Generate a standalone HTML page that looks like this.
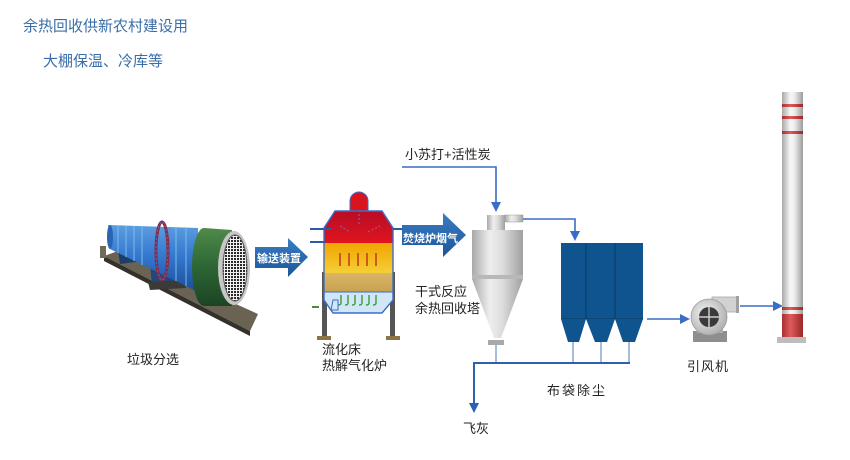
<!DOCTYPE html>
<html><head><meta charset="utf-8">
<style>
html,body{margin:0;padding:0;background:#fff;}
svg{display:block;}
text{font-family:"Liberation Sans","Noto Sans CJK SC",sans-serif;}
</style></head>
<body>
<svg width="850" height="460" viewBox="0 0 850 460" xmlns="http://www.w3.org/2000/svg">
<defs>
  <linearGradient id="arrowG" x1="0" y1="0" x2="0" y2="1">
    <stop offset="0" stop-color="#3a7cc4"/>
    <stop offset="1" stop-color="#1d5699"/>
  </linearGradient>
  <linearGradient id="drumG" x1="0" y1="0" x2="0" y2="1">
    <stop offset="0" stop-color="#5d9de0"/>
    <stop offset="0.45" stop-color="#3579d0"/>
    <stop offset="1" stop-color="#1b4c9a"/>
  </linearGradient>
  <linearGradient id="greenG" x1="0" y1="0" x2="0" y2="1">
    <stop offset="0" stop-color="#4f8a4a"/>
    <stop offset="0.5" stop-color="#2d6634"/>
    <stop offset="1" stop-color="#1c4424"/>
  </linearGradient>
  <pattern id="mesh" width="3" height="3" patternUnits="userSpaceOnUse">
    <rect width="3" height="3" fill="#f2f2f2"/>
    <rect width="2" height="2" fill="#2a2a2a"/>
  </pattern>
  <linearGradient id="redG" x1="0" y1="0" x2="0" y2="1">
    <stop offset="0" stop-color="#b80d26"/>
    <stop offset="1" stop-color="#e0141e"/>
  </linearGradient>
  <linearGradient id="yelG" x1="0" y1="0" x2="0" y2="1">
    <stop offset="0" stop-color="#f0a400"/>
    <stop offset="1" stop-color="#f6cf36"/>
  </linearGradient>
  <linearGradient id="sandG" x1="0" y1="0" x2="0" y2="1">
    <stop offset="0" stop-color="#d9b567"/>
    <stop offset="1" stop-color="#c9a24e"/>
  </linearGradient>
  <linearGradient id="cycG" x1="0" y1="0" x2="1" y2="0">
    <stop offset="0" stop-color="#a9a9a9"/>
    <stop offset="0.35" stop-color="#eeeeee"/>
    <stop offset="0.6" stop-color="#dcdcdc"/>
    <stop offset="1" stop-color="#a0a0a0"/>
  </linearGradient>
  <linearGradient id="chG" x1="0" y1="0" x2="1" y2="0">
    <stop offset="0" stop-color="#a8a8a8"/>
    <stop offset="0.4" stop-color="#f7f7f7"/>
    <stop offset="0.6" stop-color="#ececec"/>
    <stop offset="1" stop-color="#9c9c9c"/>
  </linearGradient>
  <linearGradient id="chR" x1="0" y1="0" x2="1" y2="0">
    <stop offset="0" stop-color="#a83030"/>
    <stop offset="0.4" stop-color="#e05a5a"/>
    <stop offset="1" stop-color="#9a2828"/>
  </linearGradient>
  <radialGradient id="fanG" cx="0.4" cy="0.4" r="0.7">
    <stop offset="0" stop-color="#f4f4f4"/>
    <stop offset="1" stop-color="#a8a8a8"/>
  </radialGradient>
</defs>

<!-- Titles -->
<text x="23" y="31" font-size="15" fill="#3a6ea8">余热回收供新农村建设用</text>
<text x="43" y="66" font-size="15" fill="#3a6ea8">大棚保温、冷库等</text>

<!-- Rotary drum base plate -->
<polygon points="104,256 118,251 258,314 250,331" fill="#6a6354"/>
<polygon points="104,256 250,331 250,336 104,261" fill="#34302a"/>
<!-- supports -->
<rect x="100" y="246" width="6" height="12" fill="#6f6a5c"/>
<polygon points="118,250 134,248 136,262 120,264" fill="#1f3d6a"/>
<polygon points="150,264 180,262 182,284 152,286" fill="#24467a"/>
<polygon points="148,282 184,280 186,288 150,290" fill="#3b3a36"/>
<!-- drum body -->
<polygon points="108,225 198,228 198,292 110,249" fill="url(#drumG)"/>
<g stroke="#7cc0ee" stroke-width="1.2" opacity="0.8">
  <line x1="118" y1="226" x2="118" y2="253"/>
  <line x1="126" y1="226" x2="126" y2="257"/>
  <line x1="134" y1="226" x2="134" y2="261"/>
  <line x1="142" y1="226" x2="142" y2="265"/>
  <line x1="176" y1="227" x2="176" y2="281"/>
  <line x1="186" y1="227" x2="186" y2="286"/>
</g>
<ellipse cx="110" cy="237" rx="3" ry="12" fill="#2c64b4"/>
<ellipse cx="162" cy="251" rx="6" ry="29" fill="none" stroke="#8b2a45" stroke-width="3"/>
<ellipse cx="162" cy="251" rx="6" ry="29" fill="none" stroke="#4472c0" stroke-width="1" stroke-dasharray="2 2"/>
<!-- green section -->
<polygon points="204,228 232,230 232,306 204,306" fill="url(#greenG)"/>
<ellipse cx="204" cy="267" rx="12" ry="39" fill="url(#greenG)"/>
<!-- screen -->
<ellipse cx="234" cy="268" rx="16" ry="37" fill="#c6c6c6"/>
<ellipse cx="235" cy="268" rx="12" ry="33" fill="url(#mesh)"/>
<ellipse cx="235" cy="268" rx="12" ry="33" fill="none" stroke="#555" stroke-width="1"/>

<!-- 输送装置 arrow -->
<polygon points="255,247 288,247 288,238 308,257 288,277 288,268 255,268" fill="url(#arrowG)"/>
<text x="257" y="262" font-size="11" font-weight="bold" fill="#fff">输送装置</text>
<text x="127" y="364" font-size="13" fill="#222">垃圾分选</text>

<!-- Furnace -->
<rect x="322" y="272" width="5" height="66" fill="#555"/>
<rect x="390" y="272" width="5" height="66" fill="#555"/>
<rect x="317" y="336" width="14" height="4" fill="#8c7444"/>
<rect x="386" y="336" width="14" height="4" fill="#8c7444"/>
<path d="M350,212 L350,201 A9,9 0 0 1 368,201 L368,212 Z" fill="#d8141e" stroke="#3a6ec8" stroke-width="1"/>
<polygon points="335,211 382,211 393,228 393,243 324,243 324,228" fill="url(#redG)"/>
<rect x="324" y="243" width="69" height="30" fill="url(#yelG)"/>
<rect x="324" y="273" width="69" height="19" fill="url(#sandG)"/>
<polygon points="324,292 393,292 393,300 382,313 333,313 324,300" fill="#d2e7f6"/>
<path d="M335,211 L382,211 L393,228 L393,300 L382,313 L333,313 L324,300 L324,228 Z" fill="none" stroke="#3a6ec8" stroke-width="1.4"/>
<line x1="324" y1="292" x2="393" y2="292" stroke="#3a6ec8" stroke-width="1"/>
<g stroke="#8a6aa8" stroke-width="1" stroke-dasharray="2 2">
  <line x1="359" y1="214" x2="359" y2="226"/>
  <line x1="340" y1="226" x2="350" y2="232"/>
  <line x1="368" y1="232" x2="380" y2="226"/>
</g>
<g stroke="#c2401c" stroke-width="1.6">
  <line x1="340" y1="253" x2="340" y2="266"/>
  <line x1="349" y1="253" x2="349" y2="266"/>
  <line x1="358" y1="253" x2="358" y2="266"/>
  <line x1="367" y1="253" x2="367" y2="266"/>
  <line x1="376" y1="253" x2="376" y2="266"/>
</g>
<g stroke="#3a9a3a" stroke-width="1.4" fill="none">
  <path d="M341,295 v8 q0,2 -3,2"/>
  <path d="M348,295 v8 q0,2 -3,2"/>
  <path d="M355,295 v8 q0,2 -3,2"/>
  <path d="M362,295 v8 q0,2 -3,2"/>
  <path d="M369,295 v8 q0,2 -3,2"/>
  <path d="M376,295 v8 q0,2 -3,2"/>
</g>
<polygon points="333,300 338,300 338,310 331,310" fill="none" stroke="#3a6ec8" stroke-width="1"/>
<line x1="312" y1="307" x2="319" y2="307" stroke="#4a8a3a" stroke-width="2"/>
<line x1="310" y1="229" x2="331" y2="229" stroke="#2a5aa8" stroke-width="2"/>
<line x1="310" y1="242" x2="325" y2="242" stroke="#2a5aa8" stroke-width="2"/>
<line x1="393" y1="229" x2="403" y2="229" stroke="#2a5aa8" stroke-width="2"/>
<text x="322" y="354" font-size="13" fill="#222">流化床</text>
<text x="322" y="370" font-size="13" fill="#222">热解气化炉</text>

<!-- 焚烧炉烟气 arrow -->
<polygon points="402,225 443,225 443,213 466,235 443,257 443,245 402,245" fill="url(#arrowG)"/>
<text x="403" y="242" font-size="11" font-weight="bold" fill="#fff">焚烧炉烟气</text>

<!-- Top reagent connector -->
<text x="405" y="159" font-size="13" fill="#222">小苏打+活性炭</text>
<polyline points="402,167 496,167 496,203" fill="none" stroke="#3a6cc8" stroke-width="1.6"/>
<polygon points="491,202 501,202 496,212" fill="#3a6cc8"/>

<!-- Cyclone -->
<rect x="505" y="215" width="18" height="7" fill="url(#cycG)" stroke="#999" stroke-width="0.5"/>
<rect x="487" y="215" width="18" height="15" fill="url(#cycG)"/>
<rect x="472" y="230" width="51" height="45" fill="url(#cycG)"/>
<rect x="472" y="275" width="51" height="4" fill="#b8b8b8"/>
<polygon points="472,279 523,279 501,338 494,338" fill="url(#cycG)"/>
<rect x="488" y="340" width="16" height="5" fill="#a9a9a9"/>
<polyline points="523,219 575,219 575,232" fill="none" stroke="#3a6cc8" stroke-width="1.6"/>
<polygon points="570,231 580,231 575,241" fill="#3a6cc8"/>
<text x="415" y="296" font-size="13" fill="#222">干式反应</text>
<text x="415" y="313" font-size="13" fill="#222">余热回收塔</text>

<!-- Baghouse -->
<rect x="561" y="243" width="82" height="76" fill="#0f548e"/>
<line x1="586" y1="243" x2="586" y2="319" stroke="#0a3a66" stroke-width="1"/>
<line x1="615" y1="243" x2="615" y2="319" stroke="#0a3a66" stroke-width="1"/>
<line x1="561" y1="319" x2="643" y2="319" stroke="#0a3a66" stroke-width="1"/>
<polygon points="561,319 586,319 579,342 568,342" fill="#0f548e"/>
<polygon points="586,319 615,319 607,342 595,342" fill="#0f548e"/>
<polygon points="615,319 643,319 635,342 623,342" fill="#0f548e"/>

<!-- ash collection -->
<g stroke="#6a90d0" stroke-width="1.2">
  <line x1="496" y1="345" x2="496" y2="363"/>
  <line x1="573" y1="342" x2="573" y2="363"/>
  <line x1="601" y1="342" x2="601" y2="363"/>
  <line x1="629" y1="342" x2="629" y2="363"/>
</g>
<polyline points="630,363 474,363 474,404" fill="none" stroke="#2f5fae" stroke-width="2"/>
<polygon points="469,403 479,403 474,413" fill="#2f5fae"/>
<text x="547" y="395" font-size="13" fill="#222" letter-spacing="2">布袋除尘</text>
<text x="463" y="433" font-size="13" fill="#222">飞灰</text>

<!-- Baghouse -> fan -->
<line x1="647" y1="319" x2="681" y2="319" stroke="#3a6cc8" stroke-width="1.6"/>
<polygon points="680,314 690,319 680,324" fill="#3a6cc8"/>

<!-- Fan -->
<rect x="693" y="331" width="34" height="11" fill="#8e8e8e"/>
<rect x="697" y="329" width="26" height="4" fill="#b0b0b0"/>
<rect x="712" y="297" width="26" height="15" fill="#d2d2d2" stroke="#a8a8a8" stroke-width="0.8"/>
<rect x="736" y="296" width="3" height="17" fill="#a0a0a0"/>
<circle cx="709" cy="317" r="18" fill="url(#fanG)" stroke="#9a9a9a" stroke-width="0.8"/>
<circle cx="709" cy="317" r="10" fill="#3a3a3a"/>
<line x1="699" y1="317" x2="719" y2="317" stroke="#ccc" stroke-width="1.5"/>
<line x1="709" y1="307" x2="709" y2="327" stroke="#ccc" stroke-width="1.5"/>
<text x="687" y="371" font-size="13" fill="#222" letter-spacing="1">引风机</text>

<!-- Fan -> chimney -->
<line x1="740" y1="306" x2="774" y2="306" stroke="#3a6cc8" stroke-width="1.6"/>
<polygon points="773,301 783,306 773,311" fill="#3a6cc8"/>

<!-- Chimney -->
<rect x="782" y="92" width="21" height="245" fill="url(#chG)"/>
<rect x="782" y="104" width="21" height="3" fill="url(#chR)"/>
<rect x="782" y="116" width="21" height="3" fill="url(#chR)"/>
<rect x="782" y="131" width="21" height="3" fill="url(#chR)"/>
<rect x="782" y="307" width="21" height="3" fill="url(#chR)"/>
<rect x="782" y="314" width="21" height="23" fill="url(#chR)"/>
<rect x="777" y="337" width="29" height="6" fill="#bdbdbd"/>
</svg>
</body></html>
